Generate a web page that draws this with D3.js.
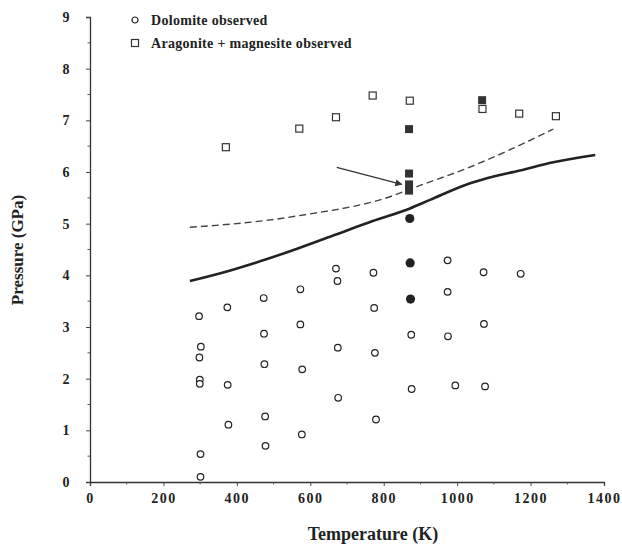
<!DOCTYPE html>
<html>
<head>
<meta charset="utf-8">
<script src="https://cdn.jsdelivr.net/npm/d3@7"></script>
<style>
  body { margin: 0; background: #fff; }
  text { font-family: "Liberation Serif", "Times New Roman", serif; font-weight: bold; fill: #222; }
</style>
</head>
<body>
<script>
// values: [temperature K, pressure GPa]
let dolomiteOpen = [
  [297, 3.21], [302, 2.62], [298, 2.41], [299, 1.98], [299, 1.9], [301, 0.54], [301, 0.1],
  [374, 3.38], [375, 1.88], [377, 1.11],
  [473, 3.56], [474, 2.87], [475, 2.28], [477, 1.27], [478, 0.7],
  [573, 3.73], [573, 3.05], [578, 2.18], [577, 0.92],
  [670, 4.13], [674, 3.89], [675, 2.6], [676, 1.63],
  [772, 4.05], [774, 3.37], [776, 2.5], [779, 1.21],
  [875, 2.85], [876, 1.8],
  [974, 4.29], [974, 3.68], [975, 2.82], [995, 1.87],
  [1072, 4.06], [1073, 3.06], [1076, 1.85],
  [1173, 4.03]
];
let dolomiteFilled = [[871, 5.1], [872, 4.24], [873, 3.54]];
let aragoniteOpen = [
  [370, 6.48], [570, 6.84], [670, 7.06], [770, 7.48], [871, 7.38],
  [1069, 7.22], [1169, 7.13], [1269, 7.08]
];
let aragoniteFilled = [[869, 6.83], [869, 5.97], [869, 5.76], [869, 5.64], [1068, 7.39]];

let solidCurve = [
  [272, 3.89], [380, 4.09], [480, 4.31], [570, 4.53], [670, 4.79], [770, 5.05],
  [870, 5.29], [926, 5.46], [1026, 5.76], [1081, 5.88], [1171, 6.03], [1262, 6.19], [1376, 6.33]
];
let dashedCurve = [
  [272, 4.93], [381, 4.99], [500, 5.08], [608, 5.2], [700, 5.31], [790, 5.46],
  [899, 5.74], [1026, 6.07], [1153, 6.46], [1262, 6.83]
];
let arrowLine = [[672, 6.09], [849, 5.76]];

let xTicks = [0, 200, 400, 600, 800, 1000, 1200, 1400];
let yTicks = [0, 1, 2, 3, 4, 5, 6, 7, 8, 9];
let legendLabels = ["Dolomite observed", "Aragonite + magnesite observed"];

let width = 622;
let height = 544;

let svg = d3
  .select("body")
  .append("svg")
  .attr("width", width)
  .attr("height", height);

let x = d3.scaleLinear().domain([0, 1400]).range([90, 604]);
let y = d3.scaleLinear().domain([0, 9]).range([482, 17]);

// axes
let xAxis = d3
  .axisBottom(x)
  .tickValues(xTicks)
  .tickFormat(d3.format("d"))
  .tickSize(4)
  .tickPadding(7);
let yAxis = d3.axisLeft(y).tickValues(yTicks).tickSize(4).tickPadding(15);

let gx = svg.append("g").attr("transform", `translate(0,${y(0)})`).call(xAxis);
let gy = svg.append("g").attr("transform", `translate(${x(0)},0)`).call(yAxis);

[gx, gy].forEach((g) => {
  g.select(".domain").attr("stroke", "#333").attr("stroke-width", 1.3);
  g.selectAll(".tick line").attr("stroke", "#444");
  g.selectAll(".tick text")
    .style("font-family", '"Liberation Serif", serif')
    .style("font-weight", "bold")
    .style("font-size", "14px")
    .style("letter-spacing", "1.5px")
    .attr("fill", "#222");
});

// minor ticks
svg
  .append("g")
  .selectAll("line")
  .data(d3.range(100, 1400, 200))
  .enter()
  .append("line")
  .attr("x1", (d) => x(d))
  .attr("x2", (d) => x(d))
  .attr("y1", y(0))
  .attr("y2", y(0) + 2.5)
  .attr("stroke", "#555");

svg
  .append("g")
  .selectAll("line")
  .data(d3.range(0.5, 9, 1))
  .enter()
  .append("line")
  .attr("x1", x(0) - 2.5)
  .attr("x2", x(0))
  .attr("y1", (d) => y(d))
  .attr("y2", (d) => y(d))
  .attr("stroke", "#555");

// axis titles
svg
  .append("text")
  .attr("x", 373)
  .attr("y", 540)
  .attr("text-anchor", "middle")
  .style("font-size", "18px")
  .text("Temperature (K)");

svg
  .append("text")
  .attr("transform", "translate(23,250) rotate(-90)")
  .attr("text-anchor", "middle")
  .style("font-size", "17px")
  .text("Pressure (GPa)");

// curves
let line = d3
  .line()
  .x((d) => x(d[0]))
  .y((d) => y(d[1]))
  .curve(d3.curveMonotoneX);

svg
  .append("path")
  .datum(solidCurve)
  .attr("fill", "none")
  .attr("stroke", "#222")
  .attr("stroke-width", 2.6)
  .attr("d", line);

svg
  .append("path")
  .datum(dashedCurve)
  .attr("fill", "none")
  .attr("stroke", "#444")
  .attr("stroke-width", 1.4)
  .attr("stroke-dasharray", "7,4")
  .attr("d", line);

// arrow
svg
  .append("defs")
  .append("marker")
  .attr("id", "head")
  .attr("viewBox", "0 0 10 10")
  .attr("refX", 9)
  .attr("refY", 5)
  .attr("markerWidth", 9)
  .attr("markerHeight", 7)
  .attr("markerUnits", "userSpaceOnUse")
  .attr("orient", "auto")
  .append("path")
  .attr("d", "M0,0L10,5L0,10z")
  .attr("fill", "#333");

svg
  .append("line")
  .attr("x1", x(arrowLine[0][0]))
  .attr("y1", y(arrowLine[0][1]))
  .attr("x2", x(arrowLine[1][0]))
  .attr("y2", y(arrowLine[1][1]))
  .attr("stroke", "#333")
  .attr("stroke-width", 1.2)
  .attr("marker-end", "url(#head)");

// points
svg
  .append("g")
  .selectAll("circle")
  .data(dolomiteOpen)
  .enter()
  .append("circle")
  .attr("cx", (d) => x(d[0]))
  .attr("cy", (d) => y(d[1]))
  .attr("r", 3.3)
  .attr("fill", "white")
  .attr("stroke", "#222")
  .attr("stroke-width", 1.2);

svg
  .append("g")
  .selectAll("circle")
  .data(dolomiteFilled)
  .enter()
  .append("circle")
  .attr("cx", (d) => x(d[0]))
  .attr("cy", (d) => y(d[1]))
  .attr("r", 4.6)
  .attr("fill", "#222");

svg
  .append("g")
  .selectAll("rect")
  .data(aragoniteOpen)
  .enter()
  .append("rect")
  .attr("x", (d) => x(d[0]) - 3.5)
  .attr("y", (d) => y(d[1]) - 3.5)
  .attr("width", 7)
  .attr("height", 7)
  .attr("fill", "white")
  .attr("stroke", "#333")
  .attr("stroke-width", 1.2);

svg
  .append("g")
  .selectAll("rect")
  .data(aragoniteFilled)
  .enter()
  .append("rect")
  .attr("x", (d) => x(d[0]) - 4)
  .attr("y", (d) => y(d[1]) - 4)
  .attr("width", 8)
  .attr("height", 8)
  .attr("fill", "#333");

// legend
let legend = svg.append("g").attr("transform", "translate(135,20)");

legend
  .append("circle")
  .attr("cx", 0)
  .attr("cy", 0)
  .attr("r", 3)
  .attr("fill", "white")
  .attr("stroke", "#222")
  .attr("stroke-width", 1.2);

legend
  .append("rect")
  .attr("x", -3.5)
  .attr("y", 19.5)
  .attr("width", 7)
  .attr("height", 7)
  .attr("fill", "white")
  .attr("stroke", "#333")
  .attr("stroke-width", 1.2);

legend
  .selectAll("text")
  .data(legendLabels)
  .enter()
  .append("text")
  .attr("x", 16)
  .attr("y", (d, i) => 4.5 + i * 23)
  .style("font-size", "14px")
  .style("letter-spacing", "0.3px")
  .text((d) => d);
</script>
</body>
</html>
